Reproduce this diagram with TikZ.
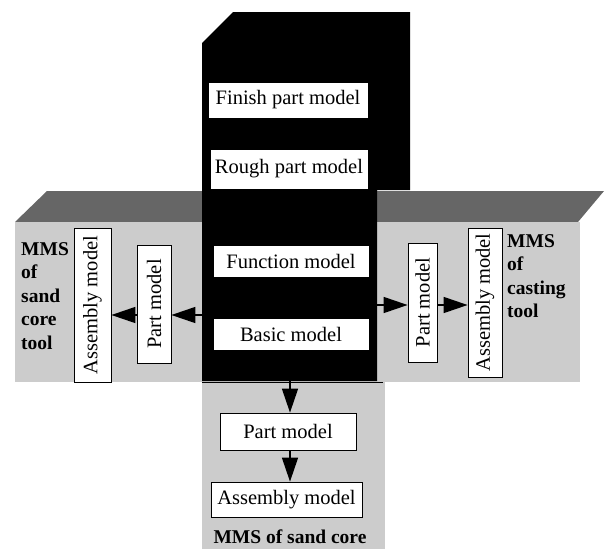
\documentclass[tikz,border=0pt]{standalone}
\usepackage{fontspec}
\setmainfont{Liberation Serif}
\usetikzlibrary{arrows.meta}
\definecolor{slabtop}{gray}{0.40}
\definecolor{slabfront}{gray}{0.80}
\begin{document}
\begin{tikzpicture}[x=1pt, y=-1pt,
    every node/.style={inner sep=0pt, font=\fontsize{20.5}{24}\selectfont},
    model/.style={draw, fill=white, line width=0.8pt},
    mms/.style={align=left, font=\fontsize{19.5}{23.5}\selectfont\bfseries},
    tip/.tip={Triangle[length=24pt,width=16pt]},
    arr/.style={line width=1.4pt, -tip}]
    \useasboundingbox (0,0) rectangle (607,549);

    % slabs behind the core
    \fill[slabtop] (15,222) -- (47,191) -- (604,191) -- (578,222) -- cycle;
    \fill[slabfront] (15,222) rectangle (580,382);
    \fill[slabfront] (202,382) rectangle (385,549);

    % core block
    \fill[black] (202,43) -- (233,12) -- (410,12) -- (410,190) -- (377,190)
        -- (377,381) -- (202,381) -- cycle;
    \node[fill=black, minimum width=175pt, minimum height=338pt] (core) at (289.5,212) {};
    \draw[line width=0.6pt] (202,382.5) -- (383,382.5);

    \node[model, minimum width=160pt, minimum height=36pt] (finish) at (288,100) {Finish part model};
    \node[model, minimum width=158pt, minimum height=40pt] (rough) at (289,169) {Rough part model};
    \node[model, minimum width=156pt, minimum height=32pt] (function) at (291,261) {Function model};
    \node[model, minimum width=156pt, minimum height=32pt] (basic) at (291,334) {Basic model};

    % sand core tool
    \node[model, rotate=90, minimum width=154pt, minimum height=37pt] (lasm) at (92.5,305) {Assembly model};
    \node[model, rotate=90, minimum width=118pt, minimum height=34pt] (lpart) at (154,304) {Part model};
    \node[mms, anchor=north west] (lmms) at (21,242) {MMS\\of\\sand\\core\\tool};

    % casting tool
    \node[model, rotate=90, minimum width=119pt, minimum height=29pt] (rpart) at (422.5,302.5) {Part model};
    \node[model, rotate=90, minimum width=149pt, minimum height=34pt] (rasm) at (485,302.5) {Assembly model};
    \node[mms, anchor=north west] (rmms) at (507,234) {MMS\\of\\casting\\tool};

    % sand core
    \node[model, minimum width=136pt, minimum height=37pt] (bpart) at (288,431.5) {Part model};
    \node[model, minimum width=151pt, minimum height=35pt] (basm) at (286.5,499.5) {Assembly model};
    \node[mms] (bmms) at (290,537) {MMS of sand core};

    \draw[arr] (core.west |- 0,315) -- (lpart.south |- 0,315);
    \draw[arr] (lpart.north |- 0,315) -- (lasm.south |- 0,315);
    \draw[arr] (core.east |- 0,305) -- (rpart.north |- 0,305);
    \draw[arr] (rpart.south |- 0,305) -- (rasm.north |- 0,305);
    \draw[arr] (core.south -| 290,0) -- (bpart.north -| 290,0);
    \draw[arr] (bpart.south -| 290,0) -- (basm.north -| 290,0);
\end{tikzpicture}
\end{document}
